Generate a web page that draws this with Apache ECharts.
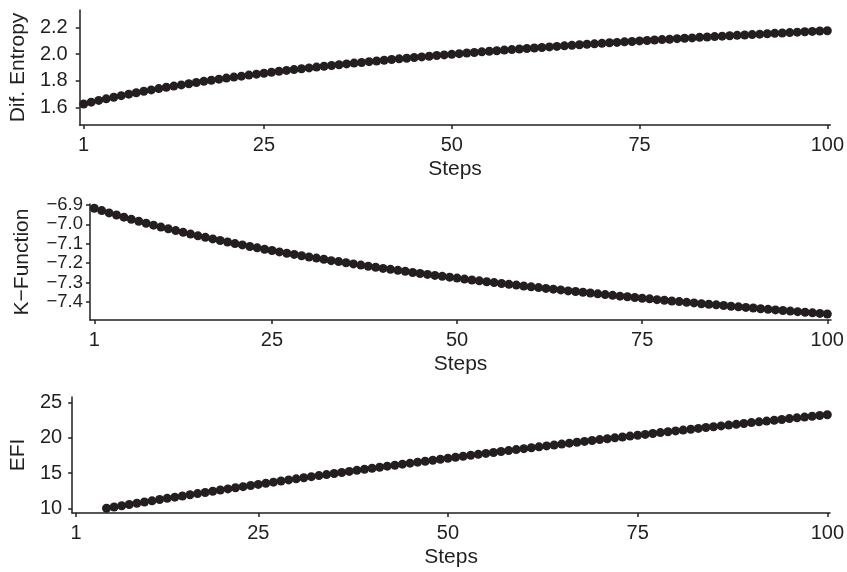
<!DOCTYPE html>
<html>
<head>
<meta charset="utf-8">
<script src="https://cdn.jsdelivr.net/npm/echarts@6/dist/echarts.min.js"></script>
<style>
html,body{margin:0;padding:0;background:#fff;}
#chart{width:847px;height:572px;}
</style>
</head>
<body>
<div id="chart"></div>
<script>
// ---- data ----
const steps = [1,2,3,4,5,6,7,8,9,10,11,12,13,14,15,16,17,18,19,20,
21,22,23,24,25,26,27,28,29,30,31,32,33,34,35,36,37,38,39,40,
41,42,43,44,45,46,47,48,49,50,51,52,53,54,55,56,57,58,59,60,
61,62,63,64,65,66,67,68,69,70,71,72,73,74,75,76,77,78,79,80,
81,82,83,84,85,86,87,88,89,90,91,92,93,94,95,96,97,98,99,100];

const difEntropy = [1.625,1.639,1.652,1.664,1.676,1.688,1.699,1.710,1.721,1.731,
1.741,1.751,1.760,1.769,1.778,1.787,1.796,1.804,1.812,1.820,
1.828,1.835,1.843,1.850,1.857,1.864,1.871,1.878,1.884,1.891,
1.897,1.903,1.909,1.915,1.921,1.927,1.933,1.938,1.944,1.949,
1.955,1.960,1.965,1.970,1.975,1.980,1.985,1.990,1.995,1.999,
2.004,2.009,2.013,2.018,2.022,2.026,2.031,2.035,2.039,2.043,
2.047,2.051,2.055,2.059,2.063,2.067,2.071,2.075,2.078,2.082,
2.086,2.089,2.093,2.096,2.100,2.103,2.107,2.110,2.113,2.117,
2.120,2.123,2.127,2.130,2.133,2.136,2.139,2.142,2.145,2.148,
2.151,2.154,2.157,2.160,2.163,2.166,2.169,2.172,2.175,2.177];

const kFunction = [-6.917,-6.929,-6.941,-6.952,-6.963,-6.974,-6.984,-6.994,-7.004,-7.014,
-7.023,-7.032,-7.041,-7.050,-7.059,-7.067,-7.075,-7.083,-7.091,-7.099,
-7.106,-7.114,-7.121,-7.128,-7.135,-7.142,-7.149,-7.155,-7.162,-7.168,
-7.174,-7.180,-7.187,-7.192,-7.198,-7.204,-7.210,-7.216,-7.221,-7.227,
-7.232,-7.237,-7.242,-7.248,-7.253,-7.258,-7.263,-7.268,-7.272,-7.277,
-7.282,-7.287,-7.291,-7.296,-7.300,-7.305,-7.309,-7.313,-7.318,-7.322,
-7.326,-7.330,-7.334,-7.338,-7.343,-7.346,-7.350,-7.354,-7.358,-7.362,
-7.366,-7.370,-7.373,-7.377,-7.381,-7.384,-7.388,-7.391,-7.395,-7.398,
-7.402,-7.405,-7.409,-7.412,-7.415,-7.418,-7.422,-7.425,-7.428,-7.431,
-7.435,-7.438,-7.441,-7.444,-7.447,-7.450,-7.453,-7.456,-7.459,-7.462];

const efiSteps = steps.slice(4); // EFI starts at step 5
const efi = [10.00,10.18,10.36,10.54,10.71,10.89,11.06,11.24,11.41,11.58,
11.75,11.92,12.09,12.25,12.42,12.59,12.75,12.91,13.07,13.23,
13.39,13.55,13.71,13.87,14.03,14.18,14.34,14.49,14.64,14.79,
14.94,15.09,15.24,15.39,15.54,15.69,15.83,15.98,16.12,16.27,
16.41,16.55,16.69,16.83,16.97,17.11,17.25,17.39,17.53,17.66,
17.80,17.93,18.07,18.20,18.34,18.47,18.60,18.73,18.86,18.99,
19.12,19.25,19.38,19.50,19.63,19.76,19.88,20.01,20.13,20.26,
20.38,20.50,20.63,20.75,20.87,20.99,21.11,21.23,21.35,21.47,
21.58,21.70,21.82,21.93,22.05,22.17,22.28,22.39,22.51,22.62,
22.74,22.85,22.96,23.07,23.18,23.29];

const xTicks = [1,25,50,75,100];
const entropyTicks = [1.6,1.8,2.0,2.2];
const kTicks = [-7.4,-7.3,-7.2,-7.1,-7.0,-6.9];
const efiTicks = [10,15,20,25];

// ---- styling ----
const INK = '#231f20';
const FONT = '"Liberation Sans", Arial, Helvetica, sans-serif';
const FS = 20;
const NFS = 21;

function xAxisCfg(gridIndex, min, max) {
  return {
    type: 'value', gridIndex: gridIndex, min: min, max: max,
    name: 'Steps', nameLocation: 'middle', nameGap: 34,
    nameTextStyle: {fontSize: NFS, color: INK, fontFamily: FONT},
    axisLine: {show: true, onZero: false, lineStyle: {color: INK, width: 1.5}},
    axisTick: {show: true, customValues: xTicks, length: 4, lineStyle: {color: INK, width: 1.5}},
    axisLabel: {customValues: xTicks, margin: 10, fontSize: FS, color: INK, fontFamily: FONT,
      showMinLabel: true, showMaxLabel: true, hideOverlap: false},
    splitLine: {show: false}
  };
}
function yAxisCfg(gridIndex, min, max, name, ticks, fmt, margin, gap, fs) {
  return {
    type: 'value', gridIndex: gridIndex, min: min, max: max,
    name: name, nameLocation: 'middle', nameGap: gap,
    nameTextStyle: {fontSize: NFS, color: INK, fontFamily: FONT},
    axisLine: {show: true, onZero: false, lineStyle: {color: INK, width: 1.5}},
    axisTick: {show: true, customValues: ticks, length: 4, lineStyle: {color: INK, width: 1.5}},
    axisLabel: {customValues: ticks, margin: margin, fontSize: fs, lineHeight: 14, color: INK, fontFamily: FONT,
      formatter: fmt, showMinLabel: true, showMaxLabel: true, hideOverlap: false, interval: 0},
    splitLine: {show: false}
  };
}
const fmt1 = v => v.toFixed(1).replace('-', '\u2212');
const fmt0 = v => String(Math.round(v));

function dots(xi, pairs) {
  return {
    type: 'scatter', xAxisIndex: xi, yAxisIndex: xi, data: pairs,
    symbol: 'circle', symbolSize: 9, clip: false,
    itemStyle: {color: INK, opacity: 1}, silent: true, animation: false
  };
}

const chart = echarts.init(document.getElementById('chart'), null, {renderer: 'canvas'});
chart.setOption({
  backgroundColor: '#ffffff',
  animation: false,
  textStyle: {fontFamily: FONT},
  grid: [
    {left: 77, top: 10, width: 754, height: 115},
    {left: 90, top: 204, width: 741, height: 116},
    {left: 72, top: 397, width: 759, height: 116}
  ],
  xAxis: [
    xAxisCfg(0, 0.47, 100.4),
    xAxisCfg(1, 0.42, 100.5),
    xAxisCfg(2, 0.47, 100.36)
  ],
  yAxis: [
    yAxisCfg(0, 1.467, 2.333, 'Dif. Entropy', entropyTicks, fmt1, 12, 43, FS),
    yAxisCfg(1, -7.493, -6.895, 'K\u2212Function', kTicks, fmt1, 7, 57, 18.5),
    yAxisCfg(2, 9.33, 25.81, 'EFI', efiTicks, fmt0, 10, 38, FS)
  ],
  series: [
    dots(0, steps.map((s, i) => [s, difEntropy[i]])),
    dots(1, steps.map((s, i) => [s, kFunction[i]])),
    dots(2, efiSteps.map((s, i) => [s, efi[i]]))
  ]
});
</script>
</body>
</html>
